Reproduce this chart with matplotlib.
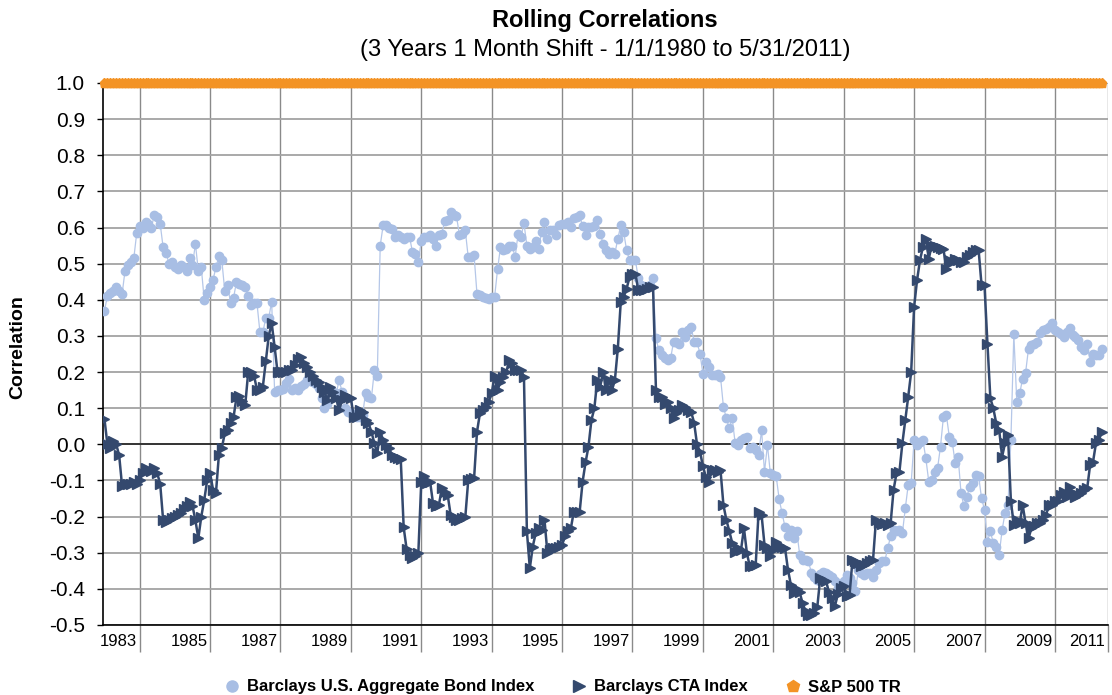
import numpy as np
import matplotlib
matplotlib.use("Agg")
import matplotlib.pyplot as plt
from matplotlib.lines import Line2D

plt.rcParams['font.family'] = ['Liberation Sans', 'DejaVu Sans']

# monthly rolling correlations, Jan 1983 .. May 2011
bond = [
    0.37, 0.41, 0.42, 0.425, 0.435, 0.425, 0.415, 0.48, 0.495, 0.505,
    0.515, 0.585, 0.605, 0.60, 0.615, 0.61, 0.60, 0.635, 0.63, 0.61,
    0.545, 0.53, 0.50, 0.505, 0.49, 0.485, 0.495, 0.49, 0.48, 0.515,
    0.495, 0.555, 0.48, 0.49, 0.40, 0.42, 0.435, 0.455, 0.49, 0.52,
    0.51, 0.425, 0.44, 0.39, 0.405, 0.45, 0.445, 0.44, 0.435, 0.41,
    0.385, 0.39, 0.39, 0.31, 0.31, 0.35, 0.35, 0.395, 0.145, 0.15,
    0.15, 0.152, 0.17, 0.18, 0.15, 0.155, 0.15, 0.161, 0.168, 0.178,
    0.175, 0.173, 0.168, 0.155, 0.127, 0.10, 0.113, 0.15, 0.145, 0.141,
    0.178, 0.145, 0.10, 0.09, 0.087, 0.084, 0.076, 0.076, 0.081, 0.143,
    0.132, 0.127, 0.205, 0.19, 0.55, 0.606, 0.606, 0.60, 0.597, 0.574,
    0.578, 0.574, 0.569, 0.574, 0.574, 0.532, 0.528, 0.505, 0.564, 0.574,
    0.574, 0.578, 0.569, 0.55, 0.578, 0.583, 0.618, 0.62, 0.643, 0.634,
    0.631, 0.58, 0.583, 0.592, 0.518, 0.518, 0.523, 0.415, 0.413, 0.408,
    0.405, 0.403, 0.408, 0.408, 0.484, 0.546, 0.537, 0.541, 0.55, 0.55,
    0.518, 0.583, 0.574, 0.612, 0.55, 0.541, 0.546, 0.564, 0.541, 0.587,
    0.615, 0.569, 0.594, 0.592, 0.578, 0.606, 0.61, 0.61, 0.615, 0.601,
    0.627, 0.629, 0.634, 0.603, 0.578, 0.601, 0.601, 0.603, 0.62, 0.583,
    0.555, 0.537, 0.528, 0.532, 0.528, 0.569, 0.606, 0.587, 0.537, 0.509,
    0.509, 0.509, 0.459, 0.44, 0.436, 0.436, 0.44, 0.459, 0.293, 0.26,
    0.247, 0.238, 0.233, 0.238, 0.284, 0.284, 0.279, 0.311, 0.297, 0.316,
    0.325, 0.284, 0.284, 0.251, 0.196, 0.228, 0.215, 0.192, 0.192, 0.196,
    0.187, 0.104, 0.072, 0.044, 0.072, 0.003, -0.002, 0.012, 0.017, 0.021,
    -0.011, -0.006, -0.016, -0.03, 0.04, -0.076, -0.002, -0.08, -0.085, -0.089,
    -0.152, -0.19, -0.229, -0.255, -0.238, -0.26, -0.24, -0.306, -0.32, -0.32,
    -0.324, -0.356, -0.366, -0.375, -0.36, -0.352, -0.356, -0.361, -0.366, -0.379,
    -0.398, -0.389, -0.379, -0.361, -0.37, -0.384, -0.407, -0.347, -0.356, -0.361,
    -0.356, -0.356, -0.366, -0.347, -0.329, -0.324, -0.324, -0.287, -0.255, -0.237,
    -0.24, -0.237, -0.246, -0.177, -0.112, -0.108, 0.012, -0.002, 0.007, 0.012,
    -0.039, -0.103, -0.099, -0.076, -0.066, -0.006, 0.076, 0.081, 0.021, 0.007,
    -0.052, -0.034, -0.135, -0.172, -0.145, -0.117, -0.108, -0.085, -0.089, -0.149,
    -0.181, -0.269, -0.241, -0.273, -0.283, -0.306, -0.237, -0.19, -0.168, 0.012,
    0.305, 0.118, 0.141, 0.182, 0.198, 0.265, 0.274, 0.279, 0.284, 0.307,
    0.316, 0.32, 0.325, 0.336, 0.316, 0.311, 0.305, 0.297, 0.311, 0.323,
    0.302, 0.297, 0.288, 0.268, 0.261, 0.279, 0.228, 0.251, 0.247, 0.247,
    0.265,
]

cta = [
    0.07, 0.00, -0.01, 0.01, 0.00, -0.03, -0.115, -0.11, -0.11, -0.11,
    -0.105, -0.11, -0.10, -0.08, -0.065, -0.07, -0.075, -0.065, -0.08, -0.11,
    -0.21, -0.215, -0.21, -0.205, -0.20, -0.195, -0.19, -0.18, -0.17, -0.16,
    -0.17, -0.21, -0.26, -0.20, -0.155, -0.10, -0.08, -0.125, -0.135, -0.03,
    -0.01, 0.03, 0.04, 0.06, 0.075, 0.13, 0.135, 0.12, 0.11, 0.20,
    0.20, 0.19, 0.15, 0.15, 0.16, 0.23, 0.30, 0.335, 0.27, 0.20,
    0.20, 0.20, 0.20, 0.205, 0.205, 0.22, 0.235, 0.242, 0.224, 0.215,
    0.20, 0.19, 0.178, 0.173, 0.16, 0.145, 0.122, 0.16, 0.145, 0.127,
    0.095, 0.122, 0.136, 0.13, 0.127, 0.076, 0.076, 0.095, 0.09, 0.067,
    0.058, 0.035, 0.003, -0.025, 0.035, 0.012, -0.002, -0.011, -0.03, -0.034,
    -0.039, -0.041, -0.23, -0.29, -0.306, -0.315, -0.31, -0.30, -0.103, -0.089,
    -0.108, -0.103, -0.163, -0.172, -0.168, -0.122, -0.131, -0.14, -0.195, -0.20,
    -0.209, -0.209, -0.204, -0.202, -0.10, -0.097, -0.094, 0.035, 0.086, 0.095,
    0.104, 0.118, 0.141, 0.19, 0.15, 0.173, 0.187, 0.20, 0.233, 0.224,
    0.205, 0.205, 0.205, 0.187, -0.241, -0.343, -0.283, -0.246, -0.232, -0.237,
    -0.209, -0.301, -0.292, -0.287, -0.287, -0.283, -0.278, -0.255, -0.241, -0.232,
    -0.186, -0.186, -0.186, -0.103, -0.05, -0.006, 0.067, 0.10, 0.178, 0.16,
    0.20, 0.15, 0.178, 0.15, 0.178, 0.265, 0.394, 0.408, 0.431, 0.463,
    0.472, 0.472, 0.426, 0.426, 0.426, 0.431, 0.436, 0.436, 0.15, 0.132,
    0.132, 0.113, 0.118, 0.10, 0.072, 0.086, 0.095, 0.109, 0.104, 0.095,
    0.09, 0.06, 0.0, -0.02, -0.06, -0.09, -0.105, -0.07, -0.07, -0.076,
    -0.071, -0.168, -0.209, -0.24, -0.273, -0.297, -0.287, -0.292, -0.232, -0.301,
    -0.338, -0.338, -0.333, -0.186, -0.195, -0.278, -0.287, -0.31, -0.292, -0.269,
    -0.278, -0.283, -0.287, -0.347, -0.389, -0.412, -0.40, -0.41, -0.44, -0.462,
    -0.471, -0.471, -0.467, -0.45, -0.37, -0.375, -0.379, -0.41, -0.425, -0.448,
    -0.415, -0.398, -0.393, -0.421, -0.416, -0.32, -0.324, -0.329, -0.336, -0.333,
    -0.329, -0.324, -0.32, -0.209, -0.218, -0.22, -0.218, -0.223, -0.218, -0.126,
    -0.08, -0.076, 0.003, 0.067, 0.132, 0.20, 0.38, 0.454, 0.509, 0.546,
    0.569, 0.514, 0.55, 0.55, 0.546, 0.544, 0.541, 0.486, 0.509, 0.505,
    0.514, 0.509, 0.505, 0.505, 0.518, 0.523, 0.532, 0.537, 0.537, 0.44,
    0.44, 0.279, 0.127, 0.10, 0.058, 0.04, -0.034, 0.003, 0.026, -0.158,
    -0.223, -0.209, -0.218, -0.168, -0.218, -0.26, -0.232, -0.227, -0.218, -0.218,
    -0.209, -0.195, -0.168, -0.168, -0.158, -0.158, -0.14, -0.131, -0.145, -0.117,
    -0.135, -0.145, -0.14, -0.135, -0.126, -0.122, -0.057, -0.048, 0.003, 0.012,
    0.035,
]

# S&P 500 correlated with itself
sp500 = [1.0] * len(cta)

year_labels = ['1983', '1985', '1987', '1989', '1991', '1993', '1995', '1997',
               '1999', '2001', '2003', '2005', '2007', '2009', '2011']

months = np.arange(len(cta))

bond_c = '#a8bee4'
cta_c = '#34496e'
sp_c = '#f39325'

fig = plt.figure(figsize=(11.12, 6.95), dpi=100)
ax = fig.add_axes([103 / 1112, 1 - 625 / 695, 1005 / 1112, 542 / 695])

x_max = 342.1
ax.set_xlim(-0.5, x_max)
ax.set_ylim(-0.5, 1.0)

# gridlines every two years (Jan of even years) plus the right edge
grid_x = list(np.arange(12, 325, 24)) + [x_max]
ax.set_xticks(grid_x)
y_ticks = [round(-0.5 + 0.1 * k, 1) for k in range(16)]
ax.set_yticks(y_ticks)
ax.set_yticklabels(['%.1f' % (v + 0.0) if v != 0 else '0.0' for v in y_ticks], fontsize=15)
ax.xaxis.grid(True, color='#8a8a8a', lw=1.0)
ax.yaxis.grid(True, color='#a3a3a3', lw=1.3)
ax.set_axisbelow(True)
ax.tick_params(axis='x', length=19.5, width=1.0, color='#8a8a8a', labelbottom=False)
ax.tick_params(axis='y', length=4, width=1.0, color='black', pad=9)

for s in ['top', 'right']:
    ax.spines[s].set_visible(False)
ax.spines['left'].set_color('black')
ax.spines['bottom'].set_color('black')
ax.spines['left'].set_linewidth(1.2)
ax.spines['bottom'].set_linewidth(1.2)

ax.axhline(0, color='#222222', lw=1.2, zorder=1.5)

ax.plot(months, bond, color='#b5c7e8', lw=0.9, marker='o', ms=6,
        mfc=bond_c, mec=bond_c, zorder=3)
ax.plot(months, cta, color=cta_c, lw=1.8, marker='>', ms=6.5,
        mfc=cta_c, mec=cta_c, zorder=4)
ax.plot(months, sp500, color=sp_c, lw=1.5, marker='p', ms=6.5,
        mfc=sp_c, mec=sp_c, zorder=5, clip_on=False)

# year labels sit just left of each gridline
for gx, lab in zip(grid_x, year_labels):
    ax.text(gx - 0.9, -0.03, lab, transform=ax.get_xaxis_transform(),
            ha='right', va='center', fontsize=12)

fig.text(605 / 1112, 1 - 20 / 695, 'Rolling Correlations', ha='center', va='center',
         fontsize=17, fontweight='bold')
fig.text(605 / 1112, 1 - 50 / 695, '(3 Years 1 Month Shift - 1/1/1980 to 5/31/2011)',
         ha='center', va='center', fontsize=17)
fig.text(18 / 1112, 1 - 347 / 695, 'Correlation', rotation=90, ha='center', va='center',
         fontsize=14, fontweight='bold')

handles = [
    Line2D([], [], ls='none', marker='o', ms=8, mfc=bond_c, mec=bond_c),
    Line2D([], [], ls='none', marker='>', ms=8, mfc=cta_c, mec=cta_c),
    Line2D([], [], ls='none', marker='p', ms=9, mfc=sp_c, mec=sp_c),
]
names = ['Barclays U.S. Aggregate Bond Index', 'Barclays CTA Index', 'S&P 500 TR']
fig.legend(handles, names, loc='center', bbox_to_anchor=(562 / 1112, 1 - 687 / 695),
           ncol=3, frameon=False, handlelength=1.0, handletextpad=0.4,
           columnspacing=2.2, prop={'weight': 'bold', 'size': 12})

fig.savefig('out.png', dpi=100)
